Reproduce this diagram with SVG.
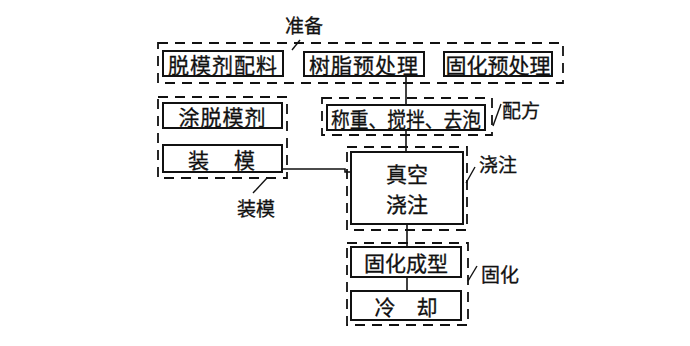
<svg xmlns="http://www.w3.org/2000/svg" width="690" height="346" viewBox="0 0 690 346">
<style>
.grp{fill:none;stroke:#111;stroke-width:1.8;stroke-dasharray:10 7}
.box{fill:#fff;stroke:#111;stroke-width:2}
.t{font-family:"Noto Sans CJK SC","Noto Sans",sans-serif;font-size:21px;fill:#111;stroke:#111;stroke-width:0.3;text-anchor:middle;dominant-baseline:central}
.lb{font-family:"Noto Sans CJK SC","Noto Sans",sans-serif;font-size:19px;fill:#111;stroke:#111;stroke-width:0.3;text-anchor:middle;dominant-baseline:central}
.ln{fill:none;stroke:#111;stroke-width:1.6}
.ld{fill:none;stroke:#111;stroke-width:1.4}
</style>
<rect width="690" height="346" fill="#fff"/>
<g id="connectors">
<line class="ln" x1="406" y1="76" x2="406" y2="105"/>
<line class="ln" x1="406" y1="130" x2="406" y2="152"/>
<line class="ln" x1="407" y1="224" x2="407" y2="247"/>
<line class="ln" x1="407" y1="277" x2="407" y2="291"/>
<polyline class="ln" points="282,169 345,169 345,172 351,172"/>
</g>
<g id="prep">
<rect class="grp" x="158" y="43" width="405" height="40"/>
<text class="lb" x="304" y="24">准备</text>
<line class="ld" x1="292" y1="50" x2="300" y2="40"/>
</g>
<g id="n-release-agent">
<rect class="box" x="163" y="51" width="120" height="25"/>
<text class="t" x="223" y="63.5" letter-spacing="1">脱模剂配料</text>
</g>
<g id="n-resin">
<rect class="box" x="304" y="52" width="120" height="24"/>
<text class="t" x="364" y="64" letter-spacing="1">树脂预处理</text>
</g>
<g id="n-hardener">
<rect class="box" x="444" y="52" width="108" height="24"/>
<text class="t" x="498" y="64">固化预处理</text>
</g>
<g id="mould">
<rect class="grp" x="158" y="97" width="129" height="81"/>
<text class="lb" x="256" y="207">装模</text>
<line class="ld" x1="267" y1="178" x2="253" y2="193"/>
</g>
<g id="n-coat">
<rect class="box" x="163" y="103" width="119" height="25"/>
<text class="t" x="222.5" y="115.5" letter-spacing="1">涂脱模剂</text>
</g>
<g id="n-assemble">
<rect class="box" x="163" y="145" width="119" height="27"/>
<text class="t" x="222.5" y="158.5" letter-spacing="2">装　模</text>
</g>
<g id="formula">
<rect class="grp" x="322" y="98" width="170" height="37"/>
<text class="lb" x="521" y="109">配方</text>
<line class="ld" x1="493" y1="126" x2="501" y2="104"/>
</g>
<g id="n-weigh">
<rect class="box" x="327" y="105" width="158" height="25"/>
<text class="t" x="406" y="117.5" textLength="150" lengthAdjust="spacingAndGlyphs">称重、搅拌、去泡</text>
</g>
<g id="pour">
<rect class="grp" x="347" y="147" width="120" height="83"/>
<text class="lb" x="498" y="163">浇注</text>
<line class="ld" x1="466" y1="183" x2="475" y2="167"/>
</g>
<g id="n-vacuum">
<rect class="box" x="351" y="152" width="112" height="72"/>
<text class="t" x="407" y="173" font-size="20">真空</text>
<text class="t" x="407" y="203" font-size="20">浇注</text>
</g>
<g id="cure">
<rect class="grp" x="347" y="243" width="121" height="82"/>
<text class="lb" x="500" y="273">固化</text>
<line class="ld" x1="468" y1="281" x2="477" y2="266"/>
</g>
<g id="n-curing">
<rect class="box" x="351" y="247" width="110" height="30"/>
<text class="t" x="406" y="262">固化成型</text>
</g>
<g id="n-cool">
<rect class="box" x="351" y="291" width="110" height="29"/>
<text class="t" x="406" y="305.5">冷　却</text>
</g>
</svg>
